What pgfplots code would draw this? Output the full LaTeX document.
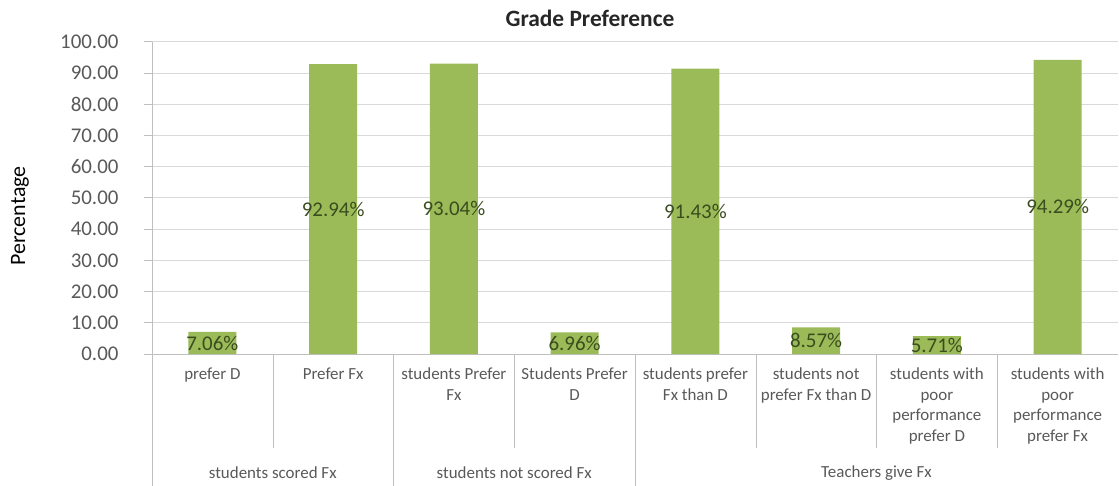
\documentclass[border=0pt]{standalone}
\usepackage{fontspec}
\setmainfont{Carlito}
\usepackage{pgfplots}
\pgfplotsset{compat=1.18}
\definecolor{bargreen}{HTML}{9BBB59}
\definecolor{labgreen}{HTML}{3A4D1E}
\definecolor{txtgray}{HTML}{595959}
\definecolor{gridgray}{HTML}{D9D9D9}
\definecolor{axgray}{HTML}{BFBFBF}
\begin{document}
\begin{tikzpicture}
\path[use as bounding box] (0,0) rectangle (1119bp,486bp);
\node[font=\fontsize{23.5}{28}\selectfont\bfseries, text=black!85] at (590bp,468bp) {Grade Preference};
\node[font=\fontsize{22}{26}\selectfont, rotate=90] at (20bp,270bp) {Percentage};
\begin{axis}[
  at={(152bp,132bp)}, anchor=south west,
  scale only axis, width=966bp, height=312bp,
  xmin=0.5, xmax=8.5, ymin=0, ymax=100,
  axis lines*=left,
  axis line style={axgray},
  xtick=\empty,
  ytick distance=10,
  ymajorgrids, grid style={gridgray, line width=1pt},
  yticklabel style={font=\fontsize{21}{25}\selectfont, text=txtgray, xshift=-22bp,
    /pgf/number format/fixed, /pgf/number format/zerofill,
    /pgf/number format/precision=2, /pgf/number format/assume math mode=true},
  tick align=outside, major tick length=8bp,
  ytick style={axgray, line width=1pt},
  clip=false,
]
\addplot[ybar, bar width=48bp, fill=bargreen, draw=none,
  point meta=y,
  visualization depends on=y \as \rawy,
  nodes near coords={\pgfmathprintnumber[fixed,zerofill,precision=2,assume math mode=true]{\pgfplotspointmeta}\%},
  every node near coord/.append style={anchor=center, text=labgreen,
    font=\fontsize{21}{25}\selectfont,
    shift={(axis direction cs:0,-\rawy/2)}},
] coordinates {
  (1,7.06) (2,92.94) (3,93.04) (4,6.96) (5,91.43) (6,8.57) (7,5.71) (8,94.29)
};
% category separators
\pgfplotsinvokeforeach{1.5,3.5,5.5,6.5,7.5}
  {\draw[axgray] (axis cs:#1,0) -- ++(0pt,-94bp);}
\pgfplotsinvokeforeach{0.5,2.5,4.5}
  {\draw[axgray] (axis cs:#1,0) -- ++(0pt,-132bp);}
\tikzset{cat/.style={anchor=north, inner sep=0pt, yshift=-14bp, align=center,
  text=txtgray, font=\fontsize{17}{20.5}\selectfont}}
\node[cat] at (axis cs:1,0) {prefer D};
\node[cat] at (axis cs:2,0) {Prefer Fx};
\node[cat] at (axis cs:3,0) {students Prefer\\Fx};
\node[cat] at (axis cs:4,0) {Students Prefer\\D};
\node[cat] at (axis cs:5,0) {students prefer\\Fx than D};
\node[cat] at (axis cs:6,0) {students not\\prefer Fx than D};
\node[cat] at (axis cs:7,0) {students with\\poor\\performance\\prefer D};
\node[cat] at (axis cs:8,0) {students with\\poor\\performance\\prefer Fx};
\tikzset{grp/.style={anchor=center, inner sep=0pt, yshift=-119bp,
  text=txtgray, font=\fontsize{17}{20.5}\selectfont}}
\node[grp] at (axis cs:1.5,0) {students scored Fx};
\node[grp] at (axis cs:3.5,0) {students not scored Fx};
\node[grp] at (axis cs:6.5,0) {Teachers give Fx};
\end{axis}
\end{tikzpicture}
\end{document}
